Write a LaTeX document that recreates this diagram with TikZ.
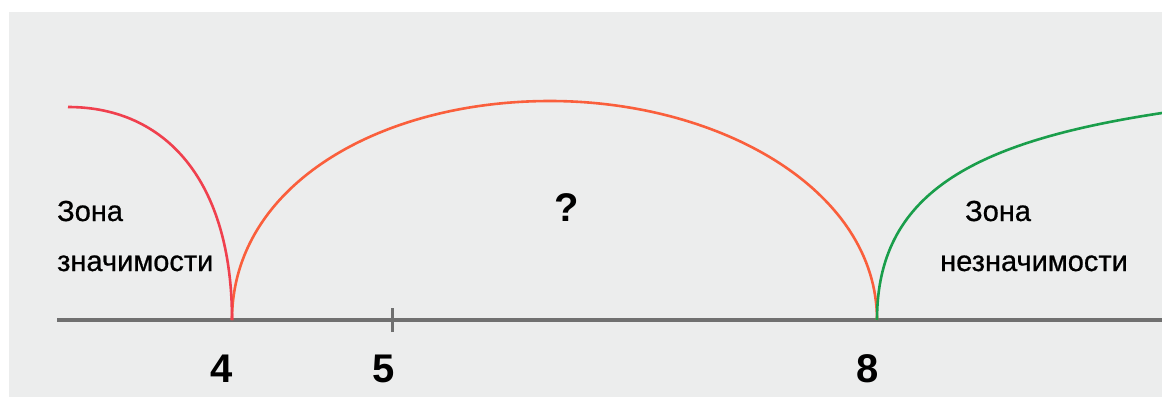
\documentclass[tikz,border=0pt]{standalone}
\usepackage{fontspec}
\setmainfont{Liberation Sans}
\newfontfamily\zonefont{Liberation Sans}[FakeBold=0.7]
\definecolor{bg}{HTML}{ECEDED}
\definecolor{axisgray}{HTML}{707070}
\definecolor{sigred}{HTML}{F0404E}
\definecolor{archorange}{HTML}{FA5F3C}
\definecolor{insgreen}{HTML}{1A9E4B}
\begin{document}
\begin{tikzpicture}[x=1pt,y=-1pt,
 curve/.style={line width=2.6pt},
 zone/.style={font=\zonefont\fontsize{29}{29}\selectfont, anchor=base west, inner sep=0pt, text=black},
 num/.style={font=\bfseries\fontsize{40}{40}\selectfont, anchor=base, inner sep=0pt}]
\useasboundingbox (0,0) rectangle (1162,397);
\fill[white] (0,0) rectangle (1162,397);
\fill[bg] (9,12) rectangle (1162,397);
\coordinate (axL) at (57,320);
\coordinate (axR) at (1162,320);
\coordinate (p4) at (232,320);
\coordinate (p5) at (392,320);
\coordinate (p8) at (877,320);
\coordinate (redtop) at (68,107);
\coordinate (archtop) at (550,101);
\coordinate (greenend) at (1162,113);
\draw[axisgray, line width=4.5pt] (axL) -- (axR);
\draw[axisgray, line width=3pt] ([yshift=-12pt]p5) -- ([yshift=12pt]p5);
\draw[archorange,curve] (p4) .. controls (232,185) and (380,101) .. (archtop) .. controls (720,101) and (877,190) .. (p8);
\draw[sigred,curve] (redtop) .. controls (165,107) and (232,180) .. (p4);
\draw[insgreen,curve] (p8) .. controls (877,195) and (970,142) .. (greenend);
\node[num] (n4) at (222,382) {4};
\node[num] (n5) at (384,382) {5};
\node[num] (n8) at (868,382) {8};
\node[num] (q) at (567,221) {?};
\node[zone] (z1a) at (57,221) {Зона};
\node[zone] (z1b) at (57,271) {значимости};
\node[zone] (z2a) at (965,221) {Зона};
\node[zone] (z2b) at (940,271) {незначимости};
\end{tikzpicture}
\end{document}
